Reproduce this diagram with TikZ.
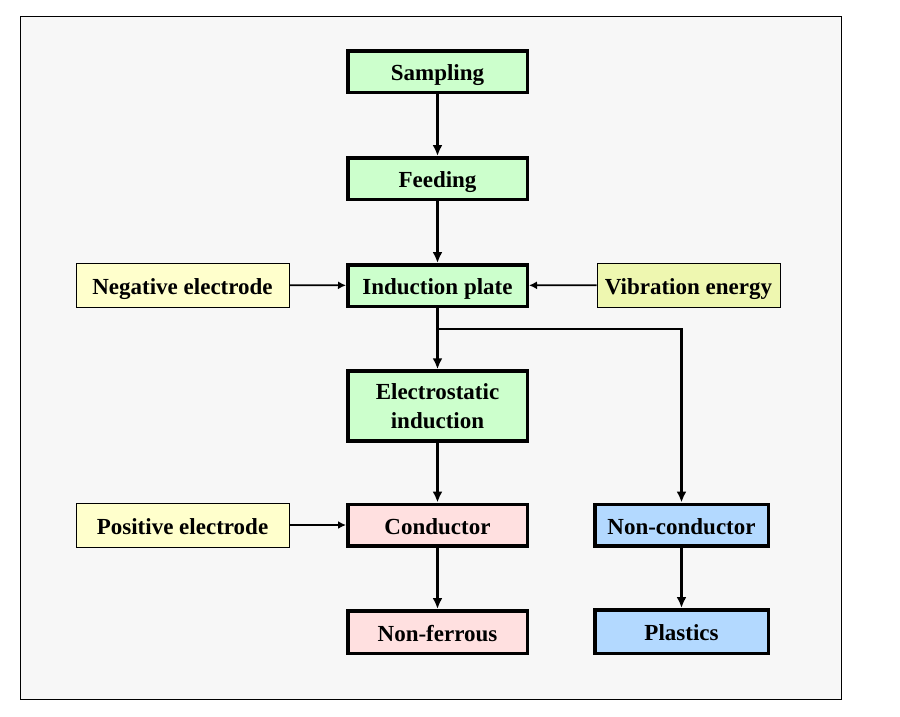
\documentclass[tikz,border=0pt]{standalone}
\usepackage{fontspec}
\setmainfont{Liberation Serif}
\usetikzlibrary{arrows.meta}
\definecolor{bgc}{HTML}{F7F7F7}
\definecolor{greenc}{HTML}{CCFFCC}
\definecolor{pinkc}{HTML}{FFE0E0}
\definecolor{bluec}{HTML}{B3D9FF}
\definecolor{yelc}{HTML}{FFFFCC}
\definecolor{vibc}{HTML}{EEF7B0}
\tikzset{
  boxfont/.style={font=\fontsize{23}{29}\selectfont\bfseries},
  mainbox/.style={draw=black, line width=3.5pt, minimum width=179.5pt, minimum height=41.5pt, inner sep=0pt, boxfont, align=center, text height=18pt, text depth=0pt},
  sidebox/.style={draw=black, line width=1pt, minimum height=44pt, inner sep=0pt, boxfont, align=center, text height=18pt, text depth=0pt},
  arr/.style={-{Latex[length=11pt,width=10pt]}, line width=2.4pt},
  sarr/.style={-{Latex[length=8pt,width=8pt]}, line width=1.8pt}
}
\begin{document}
\begin{tikzpicture}[x=1pt,y=-1pt]
\useasboundingbox (0,0) rectangle (900,716);
\fill[white] (0,0) rectangle (900,716);
\draw[fill=bgc, line width=1pt] (20,16) rectangle (841,699);
\node[mainbox, fill=greenc] (samp) at (437.5,71.5) {Sampling};
\node[mainbox, fill=greenc] (feed) at (437.5,178.5) {Feeding};
\node[mainbox, fill=greenc] (ind) at (437.5,285.5) {Induction plate};
\node[mainbox, fill=greenc, minimum height=70pt, text height=, text depth=] (elec) at (437.5,406) {Electrostatic\\induction};
\node[mainbox, fill=pinkc] (cond) at (437.5,525) {Conductor};
\node[mainbox, fill=pinkc, minimum height=42.5pt] (nonf) at (437.5,632) {Non-ferrous};
\node[sidebox, fill=yelc, minimum width=213pt] (neg) at (182.5,285) {Negative electrode};
\node[sidebox, fill=vibc, minimum width=183pt] (vib) at (688.5,285) {Vibration energy};
\node[sidebox, fill=yelc, minimum width=213pt] (pos) at (182.5,525) {Positive electrode};
\node[mainbox, fill=bluec, minimum width=173.5pt] (nonc) at (681.5,525) {Non-conductor};
\node[mainbox, fill=bluec, minimum width=173.5pt, minimum height=43.5pt] (plas) at (681.5,631.5) {Plastics};
\coordinate (br) at (437.5,329);
\draw[arr] (samp) -- (feed);
\draw[arr] (feed) -- (ind);
\draw[arr] (ind) -- (elec);
\draw[arr] (br) -| (nonc);
\draw[arr] (elec) -- (cond);
\draw[arr] (cond) -- (nonf);
\draw[arr] (nonc) -- (plas);
\draw[sarr] (neg) -- (ind);
\draw[sarr] (vib) -- (ind);
\draw[sarr] (pos) -- (cond);
\end{tikzpicture}
\end{document}
